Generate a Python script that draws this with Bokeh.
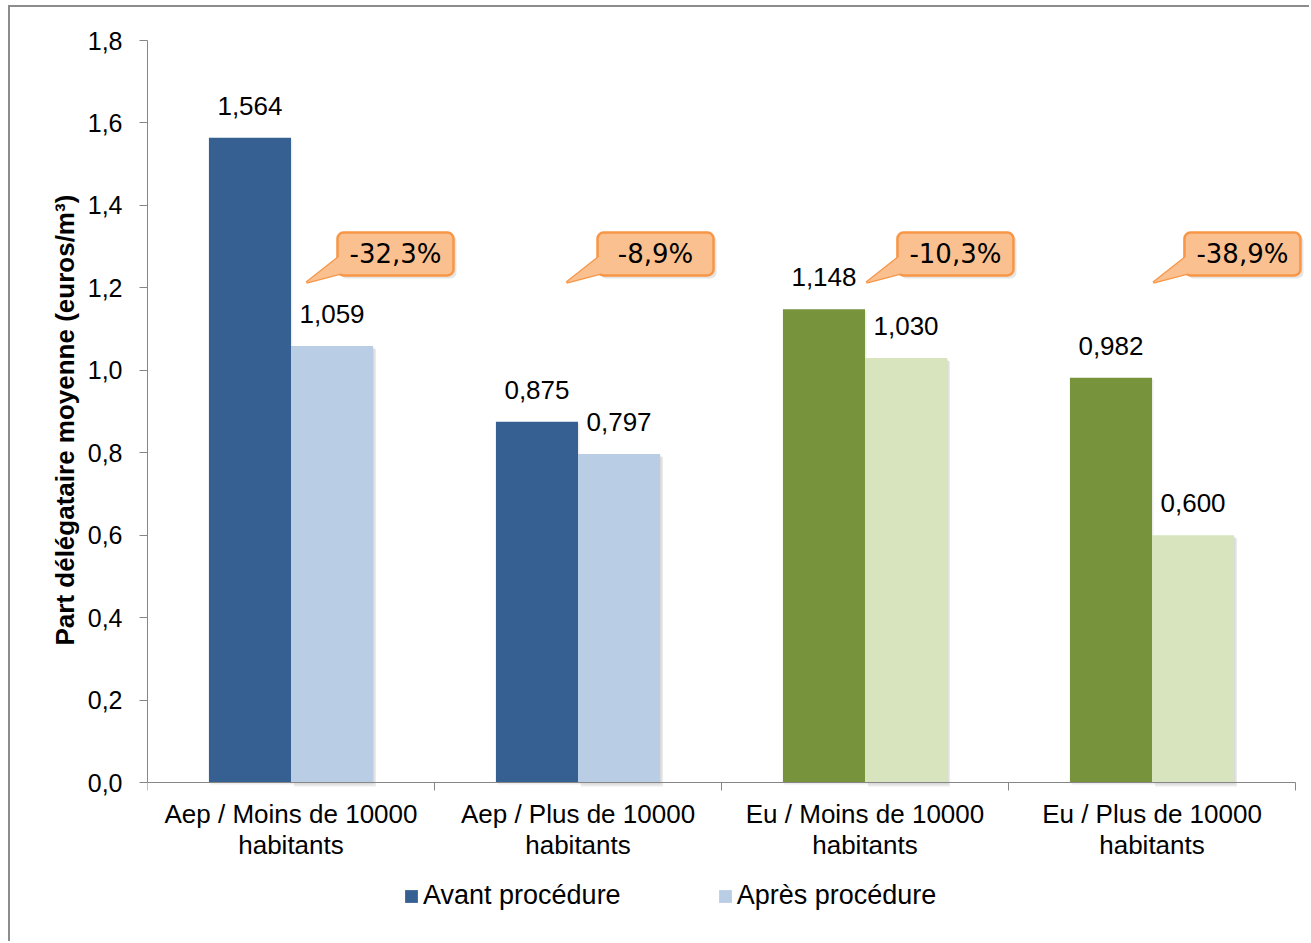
from bokeh.plotting import figure
from bokeh.models import ColumnDataSource, Range1d, FixedTicker, Legend, LegendItem, Title
from bokeh.core.properties import value
from bokeh.embed import file_html
from bokeh.resources import INLINE

# ---------------- data ----------------
categories = ["Aep / Moins de 10000\nhabitants", "Aep / Plus de 10000\nhabitants",
              "Eu / Moins de 10000\nhabitants", "Eu / Plus de 10000\nhabitants"]
avant = [1.564, 0.875, 1.148, 0.982]
apres = [1.059, 0.797, 1.030, 0.600]
avant_labels = ["1,564", "0,875", "1,148", "0,982"]
apres_labels = ["1,059", "0,797", "1,030", "0,600"]
variation_labels = ["-32,3%", "-8,9%", "-10,3%", "-38,9%"]
series_names = ["Avant procédure", "Après procédure"]
yticks = [0.0, 0.2, 0.4, 0.6, 0.8, 1.0, 1.2, 1.4, 1.6, 1.8]
ytick_labels = ["0,0", "0,2", "0,4", "0,6", "0,8", "1,0", "1,2", "1,4", "1,6", "1,8"]
y_title = "Part délégataire moyenne (euros/m³)"

# ---------------- style / layout ----------------
avant_colors = ["#366092", "#366092", "#77933C", "#77933C"]
apres_colors = ["#B9CDE5", "#B9CDE5", "#D7E4BD", "#D7E4BD"]
axis_gray = "#868686"
FONT = "Liberation Sans"
n = len(categories)
ymax = 1.8
PX_PER_GROUP = 287
EXTRA_RIGHT = 10
PLOT_H = 742                 # px from 0 to ymax
BELOW_H = 153                # px of frame below y = 0 (category labels + legend)
FRAME_W = n * PX_PER_GROUP + EXTRA_RIGHT
FRAME_H = PLOT_H + BELOW_H
XS = 1 / PX_PER_GROUP        # data units per px (x)
YS = ymax / PLOT_H           # data units per px (y)
LEFT, TOP = 137, 33
W, H = 1301, 936

bar_w = 0.286
xc = [i + 0.5 for i in range(n)]
x_av = [x - bar_w / 2 for x in xc]
x_ap = [x + bar_w / 2 for x in xc]

p = figure(width=W, height=H,
           x_range=Range1d(0, n + EXTRA_RIGHT * XS), y_range=Range1d(-BELOW_H * YS, ymax),
           output_backend="svg", toolbar_location=None, x_axis_location=None,
           min_border_left=LEFT, min_border_right=W - LEFT - FRAME_W, min_border_top=TOP,
           min_border_bottom=H - TOP - FRAME_H,
           outline_line_color=None, background_fill_color="white", border_fill_color="white")
p.styles = {"margin-left": "8px", "margin-top": "5px",
            "border-left": "2px solid #8c8c8c", "border-top": "2px solid #8c8c8c"}

src_av = ColumnDataSource(dict(x=x_av, top=avant, color=avant_colors, lab=avant_labels))
src_ap = ColumnDataSource(dict(x=x_ap, top=apres, color=apres_colors, lab=apres_labels))

# soft drop shadows of the bars
p.vbar(x=[x + 3 * XS for x in x_ap], top=[t - 3 * YS for t in apres], bottom=-4 * YS, width=bar_w,
       fill_color="black", fill_alpha=0.08, line_color=None)
p.vbar(x=[x + 1.5 * XS for x in x_ap], top=[t - 1.5 * YS for t in apres], bottom=-2 * YS, width=bar_w,
       fill_color="black", fill_alpha=0.07, line_color=None)
p.vbar(x=[x + 1.5 * XS for x in x_av], top=[t - 1.5 * YS for t in avant], bottom=-2 * YS, width=bar_w,
       fill_color="black", fill_alpha=0.07, line_color=None)

r_av = p.vbar(x="x", top="top", width=bar_w, fill_color="color", line_color=None, source=src_av)
r_ap = p.vbar(x="x", top="top", width=bar_w, fill_color="color", line_color=None, source=src_ap)

for s in (src_av, src_ap):
    p.text(x="x", y="top", text="lab", source=s, text_align="center", text_baseline="alphabetic",
           y_offset=-32, text_font=value(FONT), text_font_size="26px", text_color="black")

# ---------------- category axis (drawn at y = 0) ----------------
p.segment(x0=[0], y0=[0], x1=[n], y1=[0], line_color=axis_gray, line_width=1)
bounds = list(range(n + 1))
p.segment(x0=bounds, y0=[0] * len(bounds), x1=bounds, y1=[-8 * YS] * len(bounds),
          line_color=axis_gray, line_width=1)
p.text(x=xc, y=[0] * n, text=categories, text_align="center", text_baseline="top", y_offset=16,
       text_font=value(FONT), text_font_size="26px", text_color="black", text_line_height=1.05)

# ---------------- callouts ----------------
callout_dx = [0.662, 0.568, 0.613, 0.613]   # left edge offset within group
box_w = 116 * XS
box_bottom = 1.230
box_top = 1.334
lefts = [i + callout_dx[i] for i in range(n)]
rights = [l + box_w for l in lefts]
tails_x = [[l + 2 * XS, l - 31 * XS, l + 7 * XS] for l in lefts]
tails_y = [[box_bottom + 19 * YS, box_bottom - 7 * YS, box_bottom + 3 * YS] for _ in lefts]
call_src = ColumnDataSource(dict(left=lefts, right=rights, top=[box_top] * n, bottom=[box_bottom] * n,
                                 cx=[(l + r) / 2 for l, r in zip(lefts, rights)],
                                 cy=[(box_top + box_bottom) / 2] * n, lab=variation_labels))
tail_src = ColumnDataSource(dict(xs=tails_x, ys=tails_y))
p.quad(left=[l + 3 * XS for l in lefts], right=[r + 3 * XS for r in rights],
       top=[box_top - 3 * YS] * n, bottom=[box_bottom - 3 * YS] * n, border_radius=6,
       fill_color="black", fill_alpha=0.10, line_color=None)
p.patches(xs="xs", ys="ys", source=tail_src, fill_color="#FAC090", line_color="#F79646", line_width=2.5)
p.quad(left="left", right="right", top="top", bottom="bottom", source=call_src, border_radius=6,
       fill_color="#FAC090", line_color="#F79646", line_width=2.5)
p.patches(xs="xs", ys="ys", source=tail_src, fill_color="#FAC090", line_color=None)
p.text(x="cx", y="cy", text="lab", source=call_src, text_align="center", text_baseline="middle",
       text_font=value("DejaVu Sans"), text_font_size="26px", text_color="black")

# ---------------- y axis ----------------
p.xgrid.visible = False
p.ygrid.visible = False

yax = p.yaxis[0]
yax.bounds = (0, ymax)
yax.ticker = FixedTicker(ticks=yticks)
yax.major_label_overrides = {t: l for t, l in zip(yticks, ytick_labels)}
yax.major_tick_out = 8
yax.major_tick_in = 0
yax.minor_tick_out = 0
yax.minor_tick_in = 0
yax.axis_line_color = axis_gray
yax.major_tick_line_color = axis_gray
yax.major_label_standoff = 17
yax.major_label_text_font = FONT
yax.major_label_text_font_size = "25px"
yax.major_label_text_color = "black"

ytitle = Title(text=y_title, align="left", offset=290, standoff=10,
               text_font=FONT, text_font_size="26px", text_font_style="bold", text_color="black")
p.add_layout(ytitle, "left")

# ---------------- legend ----------------
legend = Legend(items=[LegendItem(label=series_names[0], renderers=[r_av], index=0),
                       LegendItem(label=series_names[1], renderers=[r_ap], index=0)],
                location=(256, 24), orientation="horizontal", border_line_color=None,
                background_fill_alpha=0, padding=0, margin=0, spacing=96,
                glyph_width=16, glyph_height=16, label_standoff=4,
                label_text_font=FONT, label_text_font_size="27px", label_text_color="black")
p.add_layout(legend)

open("out.html", "w").write(file_html(p, INLINE))
